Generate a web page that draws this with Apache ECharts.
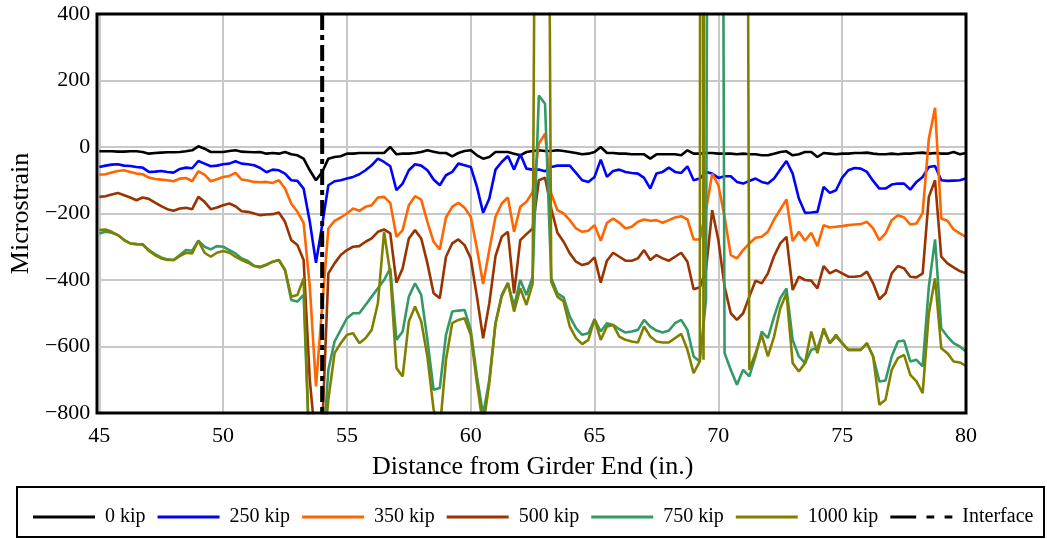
<!DOCTYPE html>
<html><head><meta charset="utf-8">
<script src="https://cdn.jsdelivr.net/npm/echarts@6/dist/echarts.min.js"></script>
<style>html,body{margin:0;padding:0;background:#fff}#c{width:1047px;height:539px}</style>
</head><body><div id="c"></div>
<script>
// Distance from girder end (in.)
const distance = [
45,45.25,45.5,45.75, 46,46.25,46.5,46.75, 47,47.25,47.5,47.75, 48,48.25,48.5,48.75,
49,49.25,49.5,49.75, 50,50.25,50.5,50.75, 51,51.25,51.5,51.75, 52,52.25,52.5,52.75,
53,53.25,53.5,53.75, 54,54.25,54.5,54.75, 55,55.25,55.5,55.75, 56,56.25,56.5,56.75,
57,57.25,57.5,57.75, 58,58.25,58.5,58.75, 59,59.25,59.5,59.75, 60,60.25,60.5,60.75,
61,61.25,61.5,61.75, 62,62.25,62.5,62.75, 63,63.25,63.5,63.75, 64,64.25,64.5,64.75,
65,65.25,65.5,65.75, 66,66.25,66.5,66.75, 67,67.25,67.5,67.75, 68,68.25,68.5,68.75,
69,69.25,69.5,69.75, 70,70.25,70.5,70.75, 71,71.25,71.5,71.75, 72,72.25,72.5,72.75,
73,73.25,73.5,73.75, 74,74.25,74.5,74.75, 75,75.25,75.5,75.75, 76,76.25,76.5,76.75,
77,77.25,77.5,77.75, 78,78.25,78.5,78.75, 79,79.25,79.5,79.75, 80];

const kip0 = [
-13,-13,-13,-14, -14,-13,-13,-15, -20,-18,-17,-16, -16,-15,-13,-10,
2,-5,-15,-15, -15,-12,-10,-14, -15,-16,-15,-20, -18,-20,-15,-22,
-25,-35,-70,-100, -75,-35,-30,-28, -20,-20,-18,-18, -18,-18,-18,0,
-22,-20,-20,-18, -15,-10,-14,-18, -18,-28,-18,-12, -10,-25,-35,-30,
-15,-15,-15,-20, -25,-15,-12,-10, -12,-12,-10,-12, -15,-18,-22,-20,
-15,0,-18,-18, -20,-20,-22,-22, -22,-35,-22,-22, -22,-22,-25,-10,
-20,-20,-18,-18, -20,-20,-20,-22, -20,-22,-22,-25, -25,-20,-15,-13,
-25,-22,-15,-15, -30,-18,-20,-22, -20,-20,-18,-18, -17,-20,-22,-22,
-20,-22,-20,-20, -18,-17,-20,-18, -20,-20,-15,-22, -18];

const kip250 = [
-60,-56,-53,-52, -56,-57,-60,-62, -75,-74,-72,-75, -77,-66,-62,-64,
-42,-50,-58,-56, -52,-50,-43,-50, -52,-55,-63,-76, -68,-70,-80,-100,
-102,-125,-225,-348, -235,-115,-103,-100, -95,-90,-82,-70, -55,-35,-45,-58,
-130,-110,-70,-52, -56,-70,-98,-115, -85,-75,-50,-55, -60,-120,-198,-155,
-68,-45,-27,-68, -22,-65,-68,-68, -73,-60,-56,-56, -56,-78,-100,-105,
-90,-38,-90,-72, -68,-75,-78,-80, -93,-125,-80,-75, -62,-75,-78,-58,
-100,-95,-75,-80, -93,-88,-88,-105, -110,-102,-95,-105, -110,-95,-68,-42,
-80,-155,-198,-197, -195,-120,-138,-130, -92,-70,-63,-65, -75,-102,-125,-125,
-113,-110,-110,-128, -105,-90,-60,-57, -100,-102,-101,-100, -95];

const kip350 = [
-83,-82,-77,-72, -70,-75,-80,-82, -92,-96,-98,-100, -103,-95,-93,-103,
-73,-83,-103,-97, -90,-87,-78,-98, -101,-105,-106,-105, -108,-100,-125,-170,
-195,-228,-420,-720, -480,-245,-222,-212, -200,-185,-192,-180, -175,-152,-150,-168,
-270,-250,-175,-148, -158,-225,-285,-308, -212,-180,-168,-183, -210,-305,-412,-310,
-210,-170,-152,-255, -180,-165,-135,10, 40,-140,-190,-200, -220,-245,-255,-252,
-235,-282,-228,-215, -228,-245,-240,-225, -218,-222,-220,-228, -220,-212,-208,-218,
-278,-278,-190,-80, -115,-210,-325,-335, -310,-290,-273,-270, -255,-218,-188,-158,
-283,-255,-282,-258, -298,-235,-242,-240, -238,-235,-233,-232, -225,-245,-280,-260,
-220,-205,-212,-233, -230,-198,25,118, -215,-222,-248,-260, -270];

const kip500 = [
-150,-148,-143,-138, -145,-152,-160,-152, -156,-167,-178,-187, -192,-185,-183,-187,
-150,-165,-187,-182, -175,-170,-178,-193, -195,-200,-205,-203, -202,-197,-225,-280,
-295,-340,-700,-900, -850,-380,-350,-325, -310,-300,-298,-285, -275,-255,-248,-260,
-408,-365,-275,-250, -275,-350,-440,-455, -330,-290,-278,-295, -335,-450,-575,-470,
-328,-270,-255,-440, -280,-262,-245,-100, -92,-185,-258,-285, -320,-345,-355,-350,
-332,-408,-342,-318, -330,-342,-342,-335, -310,-340,-325,-335, -342,-330,-318,-345,
-428,-422,-370,-190, -280,-420,-500,-520, -500,-450,-402,-410, -380,-328,-290,-270,
-430,-390,-400,-402, -425,-358,-380,-370, -380,-390,-390,-388, -375,-410,-458,-440,
-380,-358,-365,-390, -392,-380,-150,-100, -330,-350,-362,-373, -380];

const kip750 = [
-260,-255,-258,-265, -280,-290,-292,-293, -310,-322,-332,-338, -340,-325,-310,-312,
-282,-300,-308,-298, -300,-310,-320,-335, -343,-357,-360,-353, -345,-340,-370,-460,
-465,-445,-950,-950, -950,-670,-585,-550, -515,-500,-500,-475, -450,-425,-400,-365,
-580,-555,-450,-410, -445,-580,-730,-725, -565,-495,-492,-490, -550,-690,-805,-700,
-530,-445,-410,-478, -400,-445,-390,155, 130,-395,-440,-452, -510,-545,-565,-560,
-518,-555,-530,-535, -548,-558,-555,-550, -520,-540,-552,-558, -552,-530,-520,-550,
-630,-645,-460,5000, 5000,-620,-670,-715, -670,-690,-630,-555, -575,-510,-455,-425,
-580,-630,-650,-610, -605,-552,-590,-570, -590,-610,-610,-610, -590,-630,-705,-702,
-630,-585,-582,-645, -640,-660,-420,-278, -545,-570,-590,-600, -615];

const kip1000 = [
-250,-248,-255,-265, -280,-290,-292,-293, -312,-325,-335,-340, -340,-328,-318,-320,
-282,-318,-330,-318, -313,-318,-330,-340, -348,-358,-362,-355, -345,-340,-370,-450,
-445,-395,-950,-950, -950,-760,-620,-590, -565,-560,-590,-575, -550,-470,-255,-380,
-665,-690,-525,-480, -525,-630,-790,-850, -640,-530,-520,-515, -565,-710,-840,-710,
-530,-450,-408,-495, -425,-475,-410,3000, 3000,-405,-450,-465, -540,-575,-593,-580,
-518,-580,-540,-535, -570,-580,-585,-588, -540,-570,-585,-588, -588,-575,-562,-610,
-680,-645,5000,5000, 5000,5000,5000,5000, 5000,-670,-620,-565, -630,-570,-485,-440,
-650,-675,-650,-555, -620,-545,-590,-565, -590,-610,-610,-610, -590,-630,-775,-760,
-670,-635,-625,-685, -705,-740,-500,-395, -605,-620,-645,-648, -658];
// additional readings of the 1000 kip gauge between grid points
const extraDistance1000 = [69.3, 69.4];
const extraValues1000 = [5000, -640];

const interfaceX = 54;
const yTicks = { min: -800, max: 400, interval: 200 };
const xTicks = { min: 45, max: 80, interval: 5 };

const names = ['0 kip','250 kip','350 kip','500 kip','750 kip','1000 kip'];
const values = [kip0, kip250, kip350, kip500, kip750, kip1000];
const colors = ['#000000','#0000ff','#ff6600','#993300','#339966','#808000'];

const FONT = '"Liberation Serif", "Times New Roman", serif';

const series = names.map((n, si) => {
  let data = distance.map((x, i) => [x, values[si][i]]);
  if (si === 5) {
    extraDistance1000.forEach((x, j) => data.push([x, extraValues1000[j]]));
    data.sort((a, b) => a[0] - b[0]);
  }
  return {
    name: n, type: 'line', data: data, showSymbol: false, symbol: 'none',
    clip: true, animation: false,
    lineStyle: { color: colors[si], width: 2.6 },
    itemStyle: { color: colors[si] }
  };
});
series.push({
  name: 'Interface', type: 'line', symbol: 'none', showSymbol: false, clip: true, animation: false,
  data: [[interfaceX, yTicks.max], [interfaceX, yTicks.min]],
  lineStyle: { color: '#000', width: 4, type: [16, 5, 5, 5] },
  itemStyle: { color: '#000' }, z: 5
});

const legendData = names.map(n => ({ name: n, icon: 'rect' }));
legendData.push({ name: 'Interface', icon: 'path://M0,0H20V6H0Z M28,0H34V6H28Z M42,0H48V6H42Z' });

const minusFmt = v => String(v).replace('-', '\u2212');

const chart = echarts.init(document.getElementById('c'), null, { renderer: 'canvas' });
chart.setOption({
  animation: false,
  backgroundColor: '#fff',
  grid: { left: 97, right: 81, top: 14, bottom: 126, show: false },
  xAxis: {
    type: 'value', min: xTicks.min, max: xTicks.max, interval: xTicks.interval,
    axisLine: { show: false }, axisTick: { show: false },
    axisLabel: { color: '#000', fontFamily: FONT, fontSize: 22, margin: 12 },
    splitLine: { show: true, lineStyle: { color: '#c8c8c8', width: 2 } },
    name: 'Distance from Girder End (in.)', nameLocation: 'middle', nameGap: 41,
    nameTextStyle: { color: '#000', fontFamily: FONT, fontSize: 26 }
  },
  yAxis: {
    type: 'value', min: yTicks.min, max: yTicks.max, interval: yTicks.interval,
    axisLine: { show: false }, axisTick: { show: false },
    axisLabel: { color: '#000', fontFamily: FONT, fontSize: 22, margin: 9, formatter: minusFmt },
    splitLine: { show: true, lineStyle: { color: '#c8c8c8', width: 2 } },
    name: 'Microstrain', nameLocation: 'middle', nameGap: 62, nameRotate: 90,
    nameTextStyle: { color: '#000', fontFamily: FONT, fontSize: 26 }
  },
  legend: {
    left: 28, top: 502, width: 1014, itemWidth: 62, itemHeight: 3, itemGap: 12,
    symbolKeepAspect: false,
    textStyle: { color: '#000', fontFamily: FONT, fontSize: 20, padding: [0, 0, 0, 5] },
    data: legendData
  },
  graphic: [{
    type: 'rect', shape: { x: 17, y: 487, width: 1027, height: 50 },
    style: { fill: 'none', stroke: '#000', lineWidth: 2 }, z: 100
  }, {
    type: 'rect', shape: { x: 97, y: 14, width: 869, height: 399 },
    style: { fill: 'none', stroke: '#000', lineWidth: 3 }, z: 100
  }],
  series: series
});
</script>
</body></html>
